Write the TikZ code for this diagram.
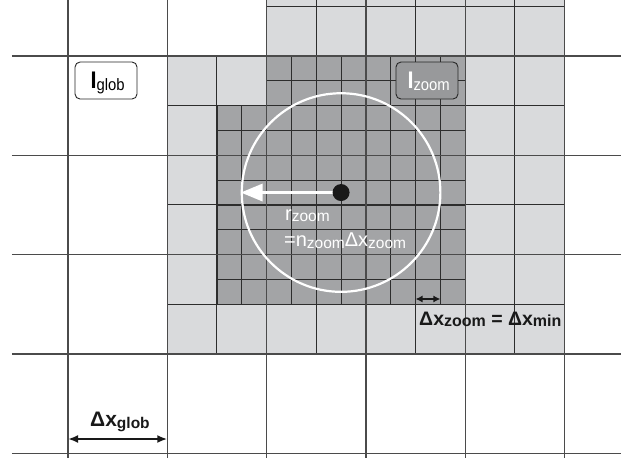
\documentclass[tikz,border=0pt]{standalone}
\usepackage{fontspec}
\setmainfont{Liberation Sans}
\usetikzlibrary{arrows.meta}
\definecolor{lightg}{RGB}{217,218,220}
\definecolor{darkg}{RGB}{163,164,166}
\definecolor{boxg}{RGB}{152,153,155}
\definecolor{gridc}{RGB}{45,45,45}
\definecolor{globc}{RGB}{75,75,75}
\newcommand\mysub[2]{\raisebox{-1.8pt}{\fontsize{#1}{#1}\selectfont #2}}
\begin{document}
\begin{tikzpicture}[x=99.3pt,y=-99.3pt,
  fineline/.style={draw=gridc,line width=0.9pt},
  medline/.style={draw=gridc,line width=1pt},
  globline/.style={draw=globc,line width=1.4pt},
  labbox/.style={rectangle, rounded corners=5pt, draw=black!85, line width=0.9pt,
    minimum width=62pt, minimum height=37pt, inner sep=0pt},
  dimarrow/.style={line width=2pt, draw=black!90,
    {Latex[length=10pt,width=8pt]}-{Latex[length=10pt,width=8pt]}},
  smallarrow/.style={line width=1.3pt, draw=black!90,
    {Latex[length=7pt,width=7pt]}-{Latex[length=7pt,width=7pt]}},
  radarrow/.style={line width=3.5pt, draw=white, -{Triangle[length=22pt,width=17pt]}},
  whitelab/.style={anchor=base west, inner sep=0pt, text=white},
  blacklab/.style={anchor=base west, inner sep=0pt, text=black!90, font=\bfseries}
]
\useasboundingbox (-0.6848,-0.5639) rectangle (5.6697,4.0886);
\clip (-0.6848,-0.5639) rectangle (5.6697,4.0886);

% shaded regions
\fill[lightg] (1,0) rectangle (5,3);
\fill[lightg] (2,-0.7) rectangle (5,0);
\fill[darkg] (1.5,0.5) rectangle (4,2.5);
\fill[darkg] (2,0) rectangle (4,0.5);

% fine grid
\foreach \x in {1.5,1.75} \draw[fineline] (\x,0.5) -- (\x,2.5);
\foreach \x in {2,2.25,...,4.1} \draw[fineline] (\x,0) -- (\x,2.5);
\foreach \y in {0,0.25} \draw[fineline] (2,\y) -- (4,\y);
\foreach \y in {0.5,0.75,...,2.6} \draw[fineline] (1.5,\y) -- (4,\y);

% medium grid
\foreach \x in {1,1.5} \draw[medline] (\x,0) -- (\x,3);
\foreach \x in {2,2.5,...,5.1} \draw[medline] (\x,-0.7) -- (\x,3);
\draw[medline] (2,-0.5) -- (5,-0.5);
\foreach \y in {0,0.5,...,3.1} \draw[medline] (1,\y) -- (5,\y);

% global grid
\foreach \y in {0,1,2,3,4} \draw[globline] (-0.564,\y) -- (5.569,\y);
\foreach \x in {0,1,2,3,4,5} \draw[globline] (\x,-0.7) -- (\x,4.048);

% zoom circle, radius arrow, centre dot
\coordinate (c) at (2.75,1.375);
\node[circle, draw=white, line width=2.2pt, minimum size=198.6pt, inner sep=0pt] (zc) at (c) {};
\draw[radarrow] (c) -- (zc.west);
\node[circle, fill=black!90, minimum size=17pt, inner sep=0pt] (dot) at (c) {};

\node[whitelab] (rz) at (2.185,1.652) {\fontsize{20}{20}\selectfont r\mysub{15.5}{zoom}};
\node[whitelab] (nz) at (2.175,1.920) {\fontsize{20}{20}\selectfont =n\mysub{15.5}{zoom}Δx\mysub{15.5}{zoom}};

% label boxes
\node[labbox, fill=white] (iglob) at (0.383,0.247) {};
\node[anchor=base west, inner sep=0pt] (iglobt) at (0.2246,0.3253)
  {\scalebox{0.9}[1]{\fontsize{24}{24}\selectfont\bfseries I\mdseries\mysub{16.5}{glob}}};
\node[labbox, fill=boxg] (izoom) at (3.615,0.247) {};
\node[anchor=base west, inner sep=0pt, text=white] (izoomt) at (3.417,0.3253)
  {\scalebox{0.9}[1]{\fontsize{24}{24}\selectfont\bfseries I\mdseries\mysub{16.5}{zoom}}};

% dimension arrows
\coordinate (ga) at (0,3.857);
\coordinate (gb) at (1,3.857);
\draw[dimarrow] (ga) -- (gb);
\node[blacklab] (gl) at (0.2216,3.736) {\fontsize{21}{21}\selectfont Δx\mysub{15.5}{glob}};

\coordinate (za) at (3.5,2.447);
\coordinate (zb) at (3.75,2.447);
\draw[smallarrow] (za) -- (zb);
\node[blacklab] (zl) at (3.535,2.709) {\fontsize{19.5}{19.5}\selectfont Δx\mysub{16}{zoom} = Δx\mysub{16}{min}};
\end{tikzpicture}
\end{document}
